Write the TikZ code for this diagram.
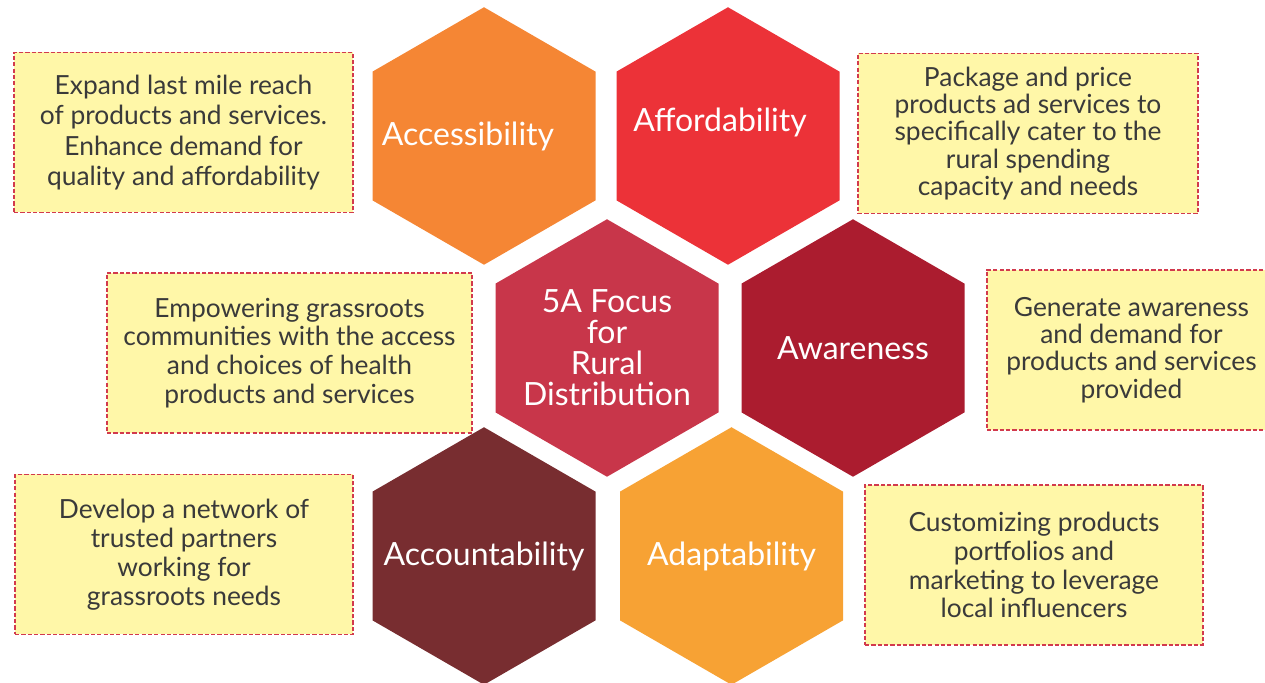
\documentclass[tikz,border=0pt]{standalone}
\usepackage{fontspec}
\setmainfont{Lato}
\usetikzlibrary{shapes.geometric}
\definecolor{accorange}{HTML}{F58634}
\definecolor{affred}{HTML}{EC3238}
\definecolor{hubred}{HTML}{C8364A}
\definecolor{awacrimson}{HTML}{AB1C2F}
\definecolor{acnbrown}{HTML}{782D30}
\definecolor{adporange}{HTML}{F7A234}
\definecolor{noteyellow}{HTML}{FFF7A8}
\definecolor{notered}{HTML}{D23A4D}
\definecolor{notetext}{HTML}{3A3A3A}

\begin{document}
\begin{tikzpicture}[
  hexa/.style={
    regular polygon, regular polygon sides=6, shape border rotate=90,
    minimum size=5.15cm, inner sep=0pt, draw=none
  },
  hextext/.style={text=white, align=center, font=\fontsize{18.2}{17.6}\selectfont},
  note/.style={
    draw=notered, fill=noteyellow, line width=1.1pt,
    dash pattern=on 2.4pt off 1.2pt, inner sep=0pt,
    minimum height=3.2cm, align=center, text=notetext,
    font=\fontsize{15}{16.4}\selectfont
  }
]
  \useasboundingbox (0,0) rectangle (25.3,-13.66);

  \node[hexa, fill=accorange, label={[hextext, xshift=-0.32cm]center:Accessibility}] (acc) at (9.68,-2.72) {};
  \node[hexa, fill=affred, label={[hextext, xshift=-0.16cm, yshift=0.28cm]center:Affordability}] (aff) at (14.56,-2.72) {};
  \node[hexa, fill=hubred, label={[hextext]center:5A Focus\\for\\Rural\\Distribution}] (hub) at (12.14,-6.96) {};
  \node[hexa, fill=awacrimson, label={[hextext]center:Awareness}] (awa) at (17.06,-6.96) {};
  \node[hexa, fill=acnbrown, label={[hextext]center:Accountability}] (acn) at (9.68,-11.12) {};
  \node[hexa, fill=adporange, label={[hextext]center:Adaptability}] (adp) at (14.63,-11.12) {};

  \node[note, minimum width=6.78cm, font=\fontsize{15}{17.2}\selectfont] (accnote) at (3.67,-2.65) {Expand last mile reach\\of products and services.\\Enhance demand for\\quality and affordability};
  \node[note, minimum width=6.8cm, font=\fontsize{15}{15.6}\selectfont] (affnote) at (20.56,-2.67) {Package and price\\products ad services to\\specifically cater to the\\rural spending\\capacity and needs};
  \node[note, minimum width=7.3cm] (hubnote) at (5.79,-7.06) {Empowering grassroots\\communities with the access\\and choices of health\\products and services};
  \node[note, minimum width=5.78cm, font=\fontsize{15}{15.5}\selectfont] (awanote) at (22.63,-7.0) {Generate awareness\\and demand for\\products and services\\provided};
  \node[note, minimum width=6.76cm] (acnnote) at (3.68,-11.09) {Develop a network of\\trusted partners\\working for\\grassroots needs};
  \node[note, minimum width=6.76cm] (adpnote) at (20.68,-11.3) {Customizing products\\portfolios and\\marketing to leverage\\local influencers};
\end{tikzpicture}
\end{document}
